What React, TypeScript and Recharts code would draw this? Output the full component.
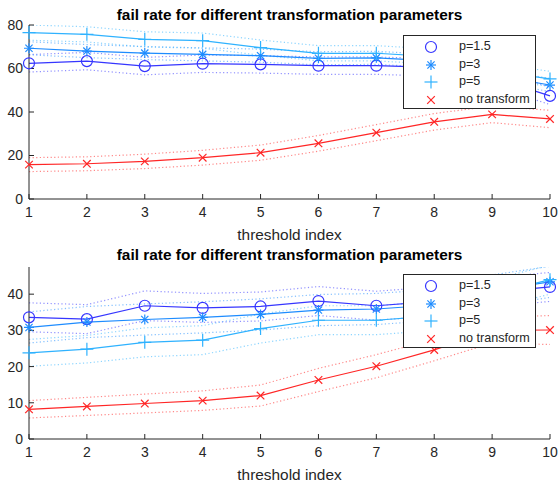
import { Line, LineChart, XAxis, YAxis } from "recharts";

const thresholds = [1, 2, 3, 4, 5, 6, 7, 8, 9, 10];
const xTicks = [1, 2, 3, 4, 5, 6, 7, 8, 9, 10];

// upper panel: mean fail rate and half-width of the dotted band
const upperP15 = [62.4, 63.4, 61.1, 62.2, 61.9, 61.3, 61.3, 60.5, 56, 47.4];
const upperP3 = [69.3, 68.0, 67.1, 66.5, 65.9, 64.7, 64.9, 63.5, 57, 52.4];
const upperP5 = [76.5, 75.7, 73.4, 72.8, 69.6, 67.0, 67.0, 65.5, 59, 55.2];
const upperNone = [15.8, 16.2, 17.3, 19.0, 21.3, 25.6, 30.5, 35.5, 38.9, 36.8];
const upperP15Band = [4, 4, 4, 4, 4, 4, 4, 4, 4, 4];
const upperP3Band = [3, 3, 3, 3, 3, 3, 3, 3, 3, 3];
const upperP5Band = [3.5, 3.5, 3.5, 3.5, 3.5, 3.5, 3.5, 3.5, 3.5, 3.5];
const upperNoneBand = [3.2, 3.2, 3.3, 3.4, 3.5, 3.6, 3.7, 3.8, 3.8, 4.0];
const upperYTicks = [0, 20, 40, 60, 80];

// lower panel
const lowerP15 = [33.6, 33.1, 36.8, 36.2, 36.6, 38.1, 36.8, 38, 40.5, 42.0];
const lowerP3 = [30.8, 32.3, 33.0, 33.6, 34.4, 35.6, 35.9, 37, 41, 43.4];
const lowerP5 = [23.8, 24.8, 26.7, 27.3, 30.5, 32.8, 32.8, 34, 40, 44.0];
const lowerNone = [8.2, 9.0, 9.8, 10.6, 12.0, 16.3, 20.1, 24.6, 30.0, 30.1];
const lowerP15Band = [4, 4, 4.1, 4, 4, 4, 4, 4, 4, 4];
const lowerP3Band = [4.3, 4.3, 4.3, 4.3, 4.3, 4.3, 4.3, 4.3, 4.3, 4.3];
const lowerP5Band = [3.7, 3.8, 4, 4, 4, 4, 4, 4, 4, 4];
const lowerNoneBand = [2.4, 2.5, 2.6, 2.7, 2.9, 3.2, 3.2, 3.0, 3.5, 4.0];
const lowerYTicks = [0, 10, 20, 30, 40];

const FONT = "'Liberation Sans', Arial, sans-serif";
const AXIS = "#262626";

type Marker = "circle" | "star" | "plus" | "cross";

const series: { key: string; name: string; color: string; marker: Marker }[] = [
  { key: "p15", name: "p=1.5", color: "#3636ff", marker: "circle" },
  { key: "p3", name: "p=3", color: "#1e8cff", marker: "star" },
  { key: "p5", name: "p=5", color: "#2fb2ff", marker: "plus" },
  { key: "none", name: "no transform", color: "#ff2626", marker: "cross" },
];

function buildRows(values: Record<string, number[]>, bands: Record<string, number[]>) {
  return thresholds.map((x, i) => {
    const row: Record<string, number> = { x };
    for (const s of series) {
      row[s.key] = values[s.key][i];
      row[s.key + "Lo"] = values[s.key][i] - bands[s.key][i];
      row[s.key + "Hi"] = values[s.key][i] + bands[s.key][i];
    }
    return row;
  });
}

const upperRows = buildRows(
  { p15: upperP15, p3: upperP3, p5: upperP5, none: upperNone },
  { p15: upperP15Band, p3: upperP3Band, p5: upperP5Band, none: upperNoneBand },
);
const lowerRows = buildRows(
  { p15: lowerP15, p3: lowerP3, p5: lowerP5, none: lowerNone },
  { p15: lowerP15Band, p3: lowerP3Band, p5: lowerP5Band, none: lowerNoneBand },
);

function MarkerShape({ type, cx, cy, color }: { type: Marker; cx: number; cy: number; color: string }) {
  const sw = 1.2;
  if (type === "circle") {
    return <circle cx={cx} cy={cy} r={5.5} fill="none" stroke={color} strokeWidth={sw} />;
  }
  if (type === "plus") {
    const s = 6.5;
    return (
      <g stroke={color} strokeWidth={sw}>
        <line x1={cx - s} y1={cy} x2={cx + s} y2={cy} />
        <line x1={cx} y1={cy - s} x2={cx} y2={cy + s} />
      </g>
    );
  }
  if (type === "star") {
    const s = 5;
    const d = 3.6;
    return (
      <g stroke={color} strokeWidth={sw}>
        <line x1={cx - s} y1={cy} x2={cx + s} y2={cy} />
        <line x1={cx} y1={cy - s} x2={cx} y2={cy + s} />
        <line x1={cx - d} y1={cy - d} x2={cx + d} y2={cy + d} />
        <line x1={cx - d} y1={cy + d} x2={cx + d} y2={cy - d} />
      </g>
    );
  }
  const s = 3.8;
  return (
    <g stroke={color} strokeWidth={sw}>
      <line x1={cx - s} y1={cy - s} x2={cx + s} y2={cy + s} />
      <line x1={cx - s} y1={cy + s} x2={cx + s} y2={cy - s} />
    </g>
  );
}

// boxed legend drawn over the upper-right corner of each panel
function LegendBox({ top }: { top: number }) {
  return (
    <div
      style={{
        position: "absolute",
        left: 403,
        top,
        width: 131,
        height: 72,
        border: `1px solid ${AXIS}`,
        background: "#fff",
        fontFamily: FONT,
        fontSize: 12.6,
        color: AXIS,
      }}
    >
      {series.map((s, i) => (
        <div key={s.key} style={{ position: "absolute", left: 0, top: 2 + i * 17.5, height: 18, width: 131 }}>
          <svg width={50} height={18} style={{ position: "absolute", left: 0, top: 0 }}>
            <MarkerShape type={s.marker} cx={27} cy={9} color={s.color} />
          </svg>
          <span style={{ position: "absolute", left: 55, top: 1, whiteSpace: "nowrap" }}>{s.name}</span>
        </div>
      ))}
    </div>
  );
}

function Panel({
  rows,
  yMax,
  yTicks,
  height,
  marginTop,
  xAxisHeight,
  labelOffset,
}: {
  rows: Record<string, number>[];
  yMax: number;
  yTicks: number[];
  height: number;
  marginTop: number;
  xAxisHeight: number;
  labelOffset: number;
}) {
  const tick = { fill: AXIS, fontSize: 14, fontFamily: FONT };
  return (
    <LineChart width={559} height={height} data={rows} margin={{ top: marginTop, right: 9, bottom: 0, left: 0 }}>
      <XAxis
        dataKey="x"
        type="number"
        domain={[1, 10]}
        ticks={xTicks}
        height={xAxisHeight}
        tickSize={-5}
        tickMargin={13}
        stroke={AXIS}
        tick={tick}
        tickLine={{ stroke: AXIS }}
        label={{
          value: "threshold index",
          position: "insideBottom",
          offset: labelOffset,
          fill: AXIS,
          fontSize: 15.4,
          fontFamily: FONT,
        }}
      />
      <YAxis
        type="number"
        domain={[0, yMax]}
        ticks={yTicks}
        allowDataOverflow
        width={29}
        tickSize={-5}
        tickMargin={11}
        stroke={AXIS}
        tick={tick}
        tickLine={{ stroke: AXIS }}
      />
      {series.map((s) => [
        <Line
          key={s.key + "Hi"}
          dataKey={s.key + "Hi"}
          stroke={s.color}
          strokeOpacity={0.55}
          strokeWidth={1.2}
          strokeDasharray="1.2 2.4"
          dot={false}
          legendType="none"
          isAnimationActive={false}
        />,
        <Line
          key={s.key + "Lo"}
          dataKey={s.key + "Lo"}
          stroke={s.color}
          strokeOpacity={0.55}
          strokeWidth={1.2}
          strokeDasharray="1.2 2.4"
          dot={false}
          legendType="none"
          isAnimationActive={false}
        />,
      ])}
      {series.map((s) => (
        <Line
          key={s.key}
          dataKey={s.key}
          name={s.name}
          type="linear"
          stroke={s.color}
          strokeWidth={1.2}
          dot={(p: { cx: number; cy: number; index: number }) => (
            <MarkerShape key={`${s.key}-${p.index}`} type={s.marker} cx={p.cx} cy={p.cy} color={s.color} />
          )}
          isAnimationActive={false}
        />
      ))}
    </LineChart>
  );
}

const titleStyle = {
  position: "absolute" as const,
  left: 29,
  width: 521,
  textAlign: "center" as const,
  fontFamily: FONT,
  fontWeight: 700,
  fontSize: 15.4,
  lineHeight: "18px",
  color: "#000",
};

export default function App() {
  return (
    <div style={{ position: "absolute", left: 0, top: 0, width: 559, height: 487, background: "#fff" }}>
      <div style={{ position: "absolute", left: 0, top: 0 }}>
        <Panel rows={upperRows} yMax={80} yTicks={upperYTicks} height={243} marginTop={25} xAxisHeight={44} labelOffset={3} />
      </div>
      <div style={{ position: "absolute", left: 0, top: 243 }}>
        <Panel rows={lowerRows} yMax={47.5} yTicks={lowerYTicks} height={244} marginTop={24} xAxisHeight={48} labelOffset={7} />
      </div>
      <LegendBox top={35} />
      <LegendBox top={274} />
      <div style={{ ...titleStyle, top: 6 }}>fail rate for different transformation parameters</div>
      <div style={{ ...titleStyle, top: 246 }}>fail rate for different transformation parameters</div>
    </div>
  );
}
